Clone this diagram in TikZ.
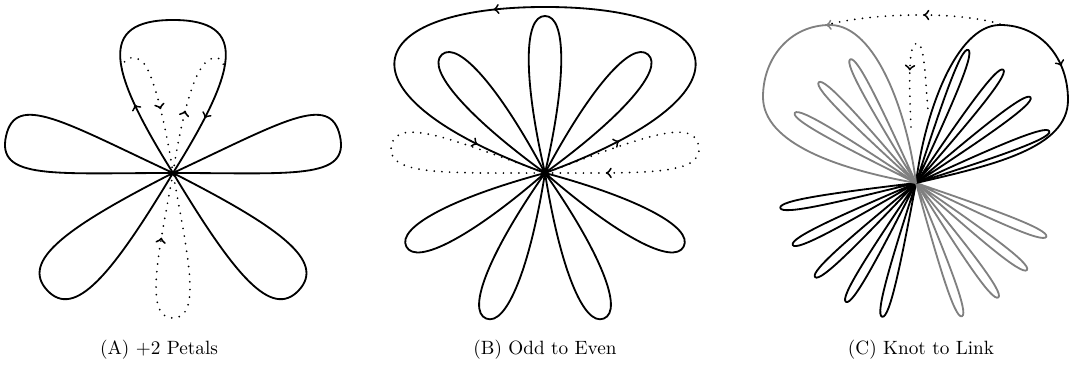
\documentclass[tikz,border=0pt]{standalone}
\usepackage{amsmath}
\usepackage{tikz}
\usetikzlibrary{decorations.markings}
\tikzset{
  every picture/.style={line join=round, line cap=round, >=to},
  strand/.style={line width=0.95pt},
  greystrand/.style={line width=0.95pt, black!50},
  ghost/.style={line width=1pt, dash pattern=on 0pt off 4pt},
  fwd/.style={postaction={decorate,decoration={markings,mark=at position #1 with {\arrow{>}}}}},
  bwd/.style={postaction={decorate,decoration={markings,mark=at position #1 with {\arrow{<}}}}},
}
% one petal from the origin: axis angle, length, half opening, stem pull, tip pull
\newcommand{\petal}[5]{(0,0) .. controls +(#1-#3:#4) and +(#1-90:#5) .. (#1:#2) .. controls +(#1+90:#5) and +(#1+#3:#4) .. (0,0)}

\begin{document}
\begin{tikzpicture}[x=0.52pt,y=0.52pt]
\useasboundingbox (0,0) rectangle (1070,369);
% (A)
\begin{scope}[shift={(173,196)}]
\draw[strand] \petal{167.5}{171}{12.5}{120}{45};
\draw[strand] \petal{12.5}{171}{12.5}{120}{45};
\draw[strand] \petal{223}{172}{16}{120}{40};
\draw[strand] \petal{317}{172}{16}{120}{40};
\draw[strand,bwd=0.17,bwd=0.82] \petal{90}{153}{32}{120}{77};
\draw[ghost,bwd=0.23] \petal{270}{145}{10}{80}{30};
\draw[ghost,fwd=0.55] (-51,104) .. controls (-50,118) and (-34,120) .. (-26,105) .. controls (-16,85) and (-6,40) .. (0,0);
\draw[ghost,fwd=0.45] (0,0) .. controls (6,40) and (16,85) .. (27,103) .. controls (33,115) and (48,122) .. (51,106);
\end{scope}
% (B)
\begin{scope}[shift={(545,196)}]
\foreach \a in {49,90,131,208,248,292,332}
  \draw[strand] \petal{\a}{157}{13}{95}{22};
\draw[strand,fwd=0.11,fwd=0.57,fwd=0.9] \petal{90}{166}{70}{230}{185};
\draw[ghost] \petal{170}{156}{10}{100}{30};
\draw[ghost,bwd=0.2] \petal{10}{156}{10}{100}{30};
\end{scope}
% (C)
\begin{scope}[shift={(916,186)}]
\foreach \a in {190.4,206.7,223,239.5,255.8}
  \draw[strand] \petal{\a}{138}{3.5}{80}{8};
\foreach \a in {21.2,36.8,52.4,68.6}
  \draw[strand] \petal{\a}{143}{3.5}{80}{8};
\foreach \a in {289,305.7,321.9,337.6}
  \draw[greystrand] \petal{\a}{141}{3.5}{80}{8};
\foreach \a in {118,134,150}
  \draw[greystrand] \petal{\a}{140}{3.5}{80}{8};
\draw[strand,fwd=0.55] (0,0) .. controls (83:70) and (40,158) .. (84,158) .. controls (125,158) and (152,125) .. (152,83) .. controls (152,35) and (13:80) .. (0,0);
\draw[greystrand,fwd=0.4] (0,0) .. controls (97:70) and (-40,158) .. (-86,158) .. controls (-126,158) and (-153,125) .. (-153,86) .. controls (-153,40) and (170:80) .. (0,0);
\draw[ghost,fwd=0.45] (84,159) .. controls (40,172) and (-40,170) .. (-86,159);
\draw[ghost,bwd=0.4] (-5,56) .. controls (-7,100) and (-8,140) .. (1,140) .. controls (8,140) and (9,110) .. (12,73);
\end{scope}
% captions
\node (capA) at (159,19) {(A) +2 Petals};
\node (capB) at (545,19) {(B) Odd to Even};
\node (capC) at (921,19) {(C) Knot to Link};
\end{tikzpicture}
\end{document}
